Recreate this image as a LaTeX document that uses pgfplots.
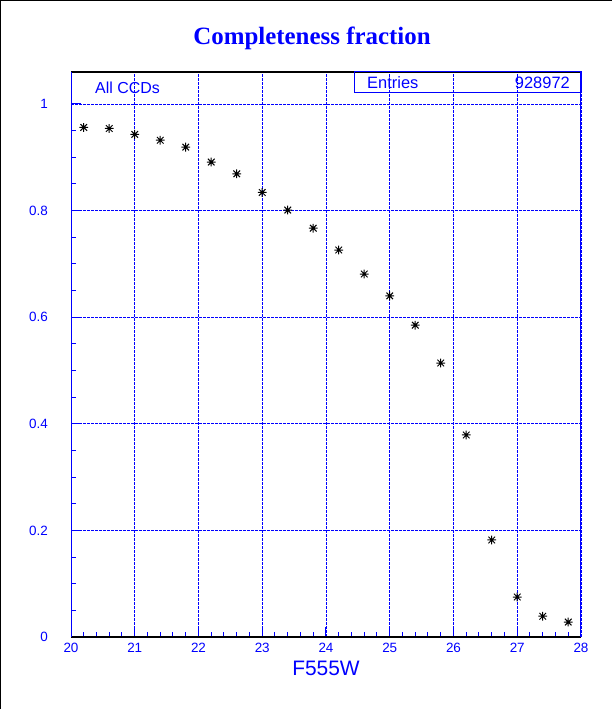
\documentclass[border=0pt]{standalone}
\usepackage{pgfplots}
\pgfplotsset{compat=1.18}
\usepackage{fontspec}
\setmainfont{Liberation Sans}
\newfontfamily\titlefont{Liberation Serif}
\definecolor{rootblue}{RGB}{0,0,255}
\pgfdeclareplotmark{rootstar}{%
  \pgfpathmoveto{\pgfqpoint{-\pgfplotmarksize}{0pt}}\pgfpathlineto{\pgfqpoint{\pgfplotmarksize}{0pt}}%
  \pgfpathmoveto{\pgfqpoint{0pt}{-\pgfplotmarksize}}\pgfpathlineto{\pgfqpoint{0pt}{\pgfplotmarksize}}%
  \pgfpathmoveto{\pgfqpoint{-0.75\pgfplotmarksize}{-0.75\pgfplotmarksize}}\pgfpathlineto{\pgfqpoint{0.75\pgfplotmarksize}{0.75\pgfplotmarksize}}%
  \pgfpathmoveto{\pgfqpoint{-0.75\pgfplotmarksize}{0.75\pgfplotmarksize}}\pgfpathlineto{\pgfqpoint{0.75\pgfplotmarksize}{-0.75\pgfplotmarksize}}%
  \pgfusepathqstroke}
\begin{document}
\begin{tikzpicture}
\useasboundingbox (0bp,0bp) rectangle (612bp,709bp);
\draw[black,line width=2bp] (0bp,0bp) -- (0bp,709bp) -- (612bp,709bp);
\begin{axis}[
  at={(71bp,72bp)}, anchor=south west,
  scale only axis, width=510bp, height=565bp,
  xmin=20, xmax=28, ymin=0, ymax=1.06,
  xtick={20,21,...,28}, ytick={0,0.2,0.4,0.6,0.8,1},
  minor x tick num=4, minor y tick num=3,
  tick pos=left, tick align=inside,
  major tick length=10bp, minor tick length=5bp,
  every tick/.style={rootblue, line width=1bp},
  grid=major,
  major grid style={rootblue, line width=0.9bp, dash pattern=on 2.5bp off 1.5bp},
  separate axis lines,
  x axis line style={black, line width=1.2bp},
  y axis line style={rootblue, line width=1bp},
  /pgf/number format/assume math mode=true,
  ticklabel style={font=\fontsize{13.5}{14}\selectfont, text=rootblue},
  xticklabel style={anchor=north, inner sep=0pt, yshift=-6bp},
  yticklabel style={anchor=east, inner sep=0pt, xshift=-23bp},
  xlabel={F555W},
  xlabel style={font=\fontsize{21}{22}\selectfont, text=rootblue, at={(axis description cs:0.5,0)}, anchor=center, yshift=-31bp},
  clip=false,
]
\addplot[only marks, mark=rootstar, mark size=4.4bp, black, line width=1bp] coordinates {
(20.2,0.956) (20.6,0.954) (21.0,0.943) (21.4,0.932) (21.8,0.919)
(22.2,0.891) (22.6,0.869) (23.0,0.834) (23.4,0.801) (23.8,0.767)
(24.2,0.726) (24.6,0.681) (25.0,0.640) (25.4,0.585) (25.8,0.514)
(26.2,0.379) (26.6,0.182) (27.0,0.075) (27.4,0.039) (27.8,0.028)
};
\end{axis}
\draw[rootblue, line width=1bp] (354bp,616bp) rectangle (581bp,637bp);
\node[anchor=west, inner sep=0pt, text=rootblue, font=\fontsize{16.5}{17}\selectfont] at (367bp,626.5bp) {Entries};
\node[anchor=east, inner sep=0pt, text=rootblue, font=\fontsize{16.5}{17}\selectfont] at (570bp,626.5bp) {928972};
\node[anchor=west, inner sep=0pt, text=rootblue, font=\fontsize{16}{17}\selectfont] at (95bp,621bp) {All CCDs};
\node[text=rootblue, font=\titlefont\bfseries\fontsize{25}{27}\selectfont, inner sep=0pt] at (312bp,671bp) {Completeness fraction};
\end{tikzpicture}
\end{document}
